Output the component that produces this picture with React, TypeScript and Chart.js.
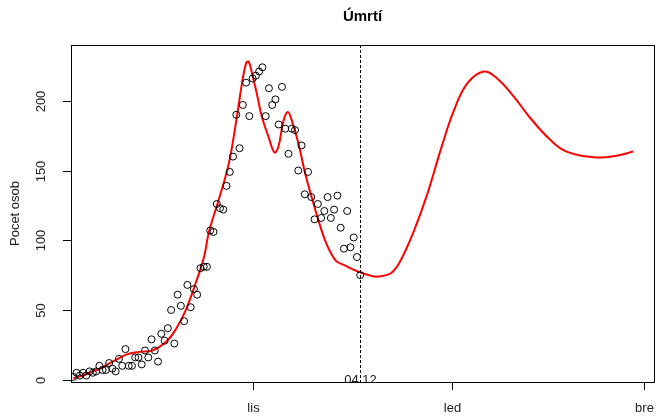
import React, { useEffect, useRef } from "react";
import { Chart, registerables } from "chart.js";

Chart.register(...registerables);

// x axis: days relative to 1 Nov 2020
const REF_DATE = "2020-11-01";
const START_DATE = "2020-09-07";

// daily observed deaths (open circles), one per day from START_DATE
const dailyDeaths = [
  2, 5, 3, 5, 3, 6, 5, 6, 10, 7,
  7, 12, 8, 6, 15, 10, 22, 10, 10, 16,
  16, 11, 21, 16, 29, 21, 13, 33, 28, 37,
  50, 26, 61, 53, 42, 68, 52, 65, 61, 80,
  81, 81, 107, 106, 126, 123, 122, 139, 149, 160,
  190, 166, 197, 213, 189, 216, 218, 221, 224, 189,
  209, 197, 201, 183, 210, 180, 162, 180, 179, 150,
  168, 133, 149, 131, 115, 126, 116, 121, 131, 116,
  122, 132, 109, 94, 121, 95, 102, 88, 75,
];

// red model curve (fit + forecast)
const fitDays = [
  -55.0, -48.9, -42.9, -38.8, -34.8, -30.7, -26.6, -23.6, -20.5, -17.5,
  -14.9, -13.4, -10.4, -7.3, -4.8, -3.3, -2.0, -1.2, -0.2, 1.3,
  2.8, 4.9, 6.7, 7.9, 9.5, 10.8, 12.0, 14.0, 16.1, 18.1,
  20.1, 22.2, 24.2, 25.7, 28.3, 32.3, 36.4, 38.4, 42.5, 45.5,
  49.6, 53.7, 57.7, 61.8, 65.9, 70.9, 75.0, 80.1, 85.2, 91.3,
  96.3, 105.5, 111.6, 116.7,
];
const fitValues = [
  1, 6, 13, 18, 20, 21, 27, 36, 50, 69,
  88, 106, 129, 155, 189, 212, 227, 228, 220, 205,
  189, 174, 163, 167, 186, 192, 186, 170, 148, 131,
  115, 100, 90, 85, 82, 77.6, 74.5, 74, 76.5, 86,
  107.5, 134, 165, 193.5, 212.6, 221, 216, 203, 187.5, 172,
  163.6, 159.4, 160.6, 163.6,
];

const yTicks = [0, 50, 100, 150, 200];
const xTickDays = [0, 61, 120];
const xTickLabels = ["lis", "led", "bre"];
const markerDay = 33;
const markerLabel = "04.12";
const titleText = "Úmrtí";
const yTitleText = "Pocet osob";

const FONT = "'Liberation Sans', Arial, Helvetica, sans-serif";

const dayOffset = (a: string, b: string) =>
  Math.round((Date.parse(a) - Date.parse(b)) / 86400000);

export default function App() {
  const ref = useRef<HTMLCanvasElement | null>(null);

  useEffect(() => {
    if (!ref.current) return;
    const start = dayOffset(START_DATE, REF_DATE);
    const points = dailyDeaths.map((v, i) => ({ x: start + i, y: v }));
    const fit = fitDays.map((d, i) => ({ x: d, y: fitValues[i] }));

    const rAxes = {
      id: "rAxes",
      afterDraw(chart: any) {
        const ctx = chart.ctx;
        const a = chart.chartArea;
        const xs = chart.scales.x;
        const ys = chart.scales.y;
        ctx.save();
        ctx.strokeStyle = "#000";
        ctx.fillStyle = "#000";
        ctx.lineWidth = 1;

        // marker dashed line
        const mx = Math.round(xs.getPixelForValue(markerDay)) + 0.5;
        ctx.save();
        ctx.setLineDash([3, 2]);
        ctx.beginPath();
        ctx.moveTo(mx, a.top);
        ctx.lineTo(mx, a.bottom);
        ctx.stroke();
        ctx.restore();

        // marker label, clipped to the plot region
        ctx.save();
        ctx.beginPath();
        ctx.rect(a.left, a.top, a.right - a.left, a.bottom - a.top);
        ctx.clip();
        ctx.font = `13px ${FONT}`;
        ctx.textAlign = "center";
        ctx.textBaseline = "middle";
        ctx.fillStyle = "#222";
        ctx.fillText(markerLabel, mx, ys.getPixelForValue(0) + 0.5);
        ctx.restore();

        // box
        ctx.strokeRect(
          Math.round(a.left) + 0.5,
          Math.round(a.top) + 0.5,
          Math.round(a.right - a.left),
          Math.round(a.bottom - a.top)
        );

        // y ticks
        ctx.font = `13px ${FONT}`;
        ctx.fillStyle = "#222";
        yTicks.forEach((t) => {
          const py = Math.round(ys.getPixelForValue(t)) + 0.5;
          ctx.beginPath();
          ctx.moveTo(a.left - 8, py);
          ctx.lineTo(a.left, py);
          ctx.stroke();
          ctx.save();
          ctx.translate(41, py);
          ctx.rotate(-Math.PI / 2);
          ctx.textAlign = "center";
          ctx.textBaseline = "middle";
          ctx.fillText(String(t), 0, 0);
          ctx.restore();
        });

        // x ticks
        xTickDays.forEach((d, i) => {
          const px = Math.round(xs.getPixelForValue(d)) + 0.5;
          ctx.beginPath();
          ctx.moveTo(px, a.bottom);
          ctx.lineTo(px, a.bottom + 8);
          ctx.stroke();
          ctx.textAlign = "center";
          ctx.textBaseline = "middle";
          ctx.fillText(xTickLabels[i], px, 408);
        });

        // y title
        ctx.save();
        ctx.translate(15, (a.top + a.bottom) / 2);
        ctx.rotate(-Math.PI / 2);
        ctx.textAlign = "center";
        ctx.textBaseline = "middle";
        ctx.fillText(yTitleText, 0, 0);
        ctx.restore();

        // title
        ctx.font = `bold 15px ${FONT}`;
        ctx.fillStyle = "#000";
        ctx.textAlign = "center";
        ctx.textBaseline = "middle";
        ctx.fillText(titleText, (a.left + a.right) / 2, 17);

        ctx.restore();
      },
    };

    const chart = new Chart(ref.current, {
      type: "scatter",
      data: {
        datasets: [
          {
            type: "line",
            data: fit,
            borderColor: "#ff0000",
            borderWidth: 2,
            pointRadius: 0,
            tension: 0.4,
            fill: false,
            order: 1,
          } as any,
          {
            type: "scatter",
            data: points,
            pointRadius: 3.5,
            pointBorderWidth: 1,
            pointBorderColor: "#000",
            pointBackgroundColor: "rgba(0,0,0,0)",
            order: 0,
          } as any,
        ],
      },
      options: {
        responsive: false,
        animation: false,
        devicePixelRatio: 1,
        layout: { padding: { left: 71, right: 2, top: 45, bottom: 34 } },
        plugins: { legend: { display: false }, tooltip: { enabled: false } },
        scales: {
          x: { type: "linear", min: -55.7, max: 123.1, display: false },
          y: { type: "linear", min: -1.6, max: 240, display: false },
        },
      },
      plugins: [rAxes],
    });
    return () => chart.destroy();
  }, []);

  return (
    <div style={{ position: "absolute", left: 0, top: 0, width: 659, height: 416, background: "#fff" }}>
      <canvas ref={ref} width={659} height={416} />
    </div>
  );
}
